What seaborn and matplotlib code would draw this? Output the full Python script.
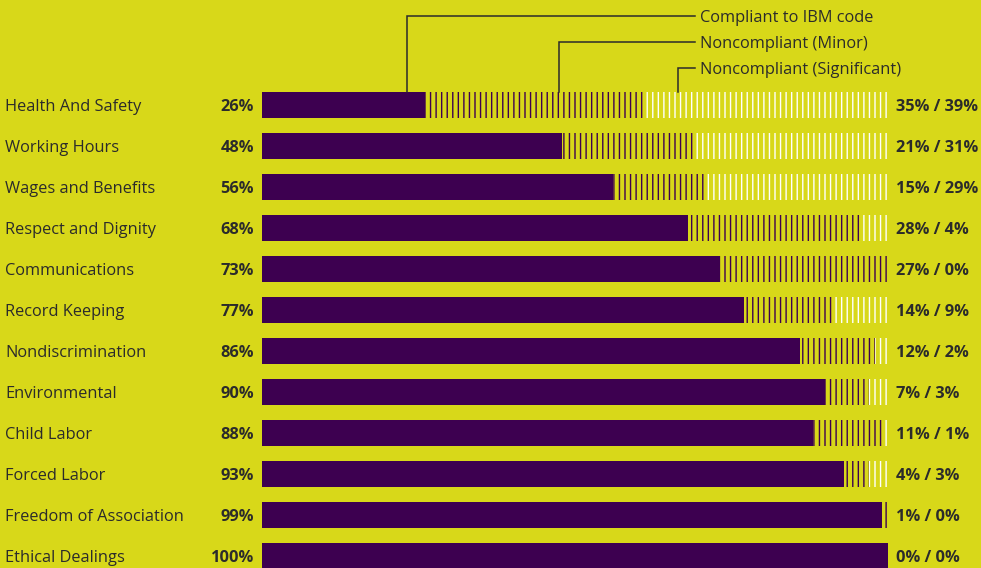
"""Supplier audit compliance by category (IBM code)."""
import matplotlib.pyplot as plt
import pandas as pd
import seaborn as sns

categories = [
    "Health And Safety", "Working Hours", "Wages and Benefits", "Respect and Dignity",
    "Communications", "Record Keeping", "Nondiscrimination", "Environmental",
    "Child Labor", "Forced Labor", "Freedom of Association", "Ethical Dealings",
]
compliant = [26, 48, 56, 68, 73, 77, 86, 90, 88, 93, 99, 100]
minor = [35, 21, 15, 28, 27, 14, 12, 7, 11, 4, 1, 0]
significant = [39, 31, 29, 4, 0, 9, 2, 3, 1, 3, 0, 0]

BG = "#d8d819"
PURPLE = "#3d0050"
INK = "#2b2b2b"

df = pd.DataFrame({"Category": categories, "Compliant": compliant,
                   "Minor": minor, "Significant": significant})
df["UpToMinor"] = df["Compliant"] + df["Minor"]
df["Total"] = df["UpToMinor"] + df["Significant"]

plt.rcParams["hatch.linewidth"] = 1.0
plt.rcParams["font.family"] = ["Open Sans", "DejaVu Sans"]

fig = plt.figure(figsize=(9.81, 5.68), dpi=100, facecolor=BG)
ax = fig.add_axes([262 / 981, 0, 626 / 981, 1])
ax.set_facecolor(BG)

# layered bars: total (white stripes), compliant+minor (purple stripes), compliant (solid)
common = dict(y="Category", orient="h", width=0.634, saturation=1, linewidth=0, ax=ax)
sns.barplot(data=df, x="Total", color=BG, edgecolor="white", hatch="|||", **common)
sns.barplot(data=df, x="UpToMinor", color=BG, edgecolor=PURPLE, hatch="|||", **common)
sns.barplot(data=df, x="Compliant", color=PURPLE, edgecolor=PURPLE, **common)

ax.set_xlim(0, 100)
ax.set_ylim((568 - 105) / 41, -105 / 41)
ax.axis("off")

FS = 11.8
for i, row in df.iterrows():
    ax.text(-41.05, i, row["Category"], ha="left", va="center_baseline", fontsize=FS,
            color=INK, clip_on=False)
    ax.text(-1.3, i, f"{row['Compliant']}%", ha="right", va="center_baseline",
            fontsize=FS, fontweight="bold", color=INK, clip_on=False)
    ax.text(101.3, i, f"{row['Minor']}% / {row['Significant']}%", ha="left",
            va="center_baseline", fontsize=FS, fontweight="bold", color=INK,
            clip_on=False)

# legend callouts
bar_top = -0.317
callouts = [
    ("Compliant to IBM code", 23.16, (16 - 105) / 41),
    ("Noncompliant (Minor)", 47.44, (42 - 105) / 41),
    ("Noncompliant (Significant)", 66.45, (68 - 105) / 41),
]
for label, x0, y0 in callouts:
    ax.plot([x0, x0, 69.2], [bar_top, y0, y0], color=INK, lw=1.1,
            clip_on=False, solid_joinstyle="miter")
    ax.text(69.97, y0, label, ha="left", va="center_baseline", fontsize=FS,
            color=INK, clip_on=False)

fig.savefig("out.png", dpi=100, facecolor=BG)
